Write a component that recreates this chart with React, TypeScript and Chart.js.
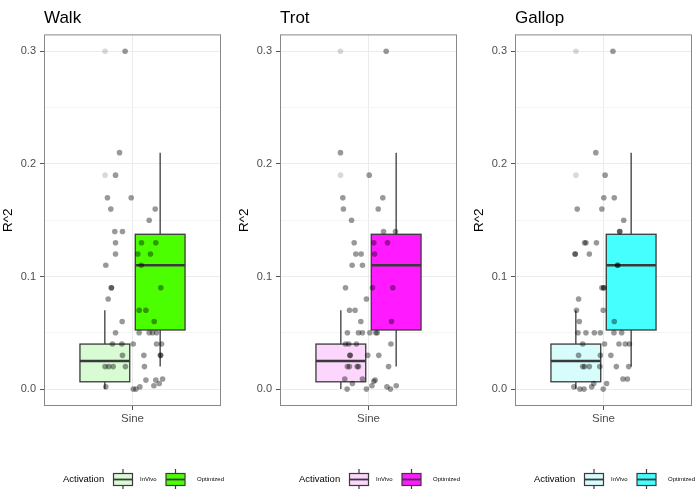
import React, { useEffect, useRef } from "react";
import { Chart, registerables } from "chart.js";

Chart.register(...registerables);

const FONT = "'Liberation Sans', Arial, Helvetica, sans-serif";

const panelTitles = ["Walk", "Trot", "Gallop"];
const groupLabels = ["InVivo", "Optimized"];
const legendTitle = "Activation";
const categoryLabel = "Sine";
const yAxisTitle = "R^2";
const yMajorTicks = [0, 0.1, 0.2, 0.3];
const yMinorTicks = [0.05, 0.15, 0.25];
const groupCenters = [0.8125, 1.1875];
const boxWidthUnits = 0.3375;

// [lower whisker, q1, median, q3, upper whisker]
const walkInVivoBox = [0, 0.0065, 0.025, 0.04, 0.07];
const walkOptimizedBox = [0.02, 0.0525, 0.11, 0.1375, 0.21];
const trotInVivoBox = [0, 0.0065, 0.025, 0.04, 0.07];
const trotOptimizedBox = [0.02, 0.0525, 0.11, 0.1375, 0.21];
const gallopInVivoBox = [0, 0.0065, 0.025, 0.04, 0.07];
const gallopOptimizedBox = [0.02, 0.0525, 0.11, 0.1375, 0.21];

const inVivoFills = ["#d8fbd4", "#fcd6fc", "#d6fcfc"];
const optimizedFills = ["#4cff00", "#ff1aff", "#45ffff"];

// jittered points (x is the dodged category position, y is R^2)
const walkX = [0.95, 0.912, 0.885, 0.83, 0.991, 0.853, 1.154, 1.113, 0.88, 0.932, 0.885, 1.061, 1.158, 0.885, 1.036, 1.122, 0.819, 1.059, 0.857, 0.857, 1.192, 0.835, 1.045, 1.091, 0.93, 1.147, 0.885, 1.045, 1.113, 1.136, 1.163, 0.864, 0.928, 1.005, 1.163, 1.197, 0.932, 1.077, 1.19, 1.19, 0.814, 0.839, 0.869, 0.952, 1.081, 0.819, 1.005, 1.023, 1.05, 1.091, 1.145, 1.158, 1.181, 1.204];
const walkY = [0.3, 0.21, 0.19, 0.17, 0.17, 0.16, 0.16, 0.15, 0.14, 0.14, 0.13, 0.13, 0.13, 0.12, 0.12, 0.12, 0.11, 0.11, 0.09, 0.09, 0.09, 0.08, 0.07, 0.07, 0.06, 0.06, 0.05, 0.05, 0.05, 0.05, 0.05, 0.04, 0.04, 0.04, 0.04, 0.04, 0.03, 0.03, 0.03, 0.03, 0.02, 0.02, 0.02, 0.02, 0.02, 0.002, 0, 0, 0.002, 0.008, 0.003, 0.008, 0.005, 0.009];
const walkFaintX = [0.814, 0.814];
const walkFaintY = [0.3, 0.19];

const trotX = [1.12, 0.81, 1.005, 0.826, 1.097, 0.83, 1.066, 0.885, 1.102, 1.183, 0.903, 1.036, 1.129, 0.914, 0.95, 1.041, 0.889, 0.959, 0.844, 1.027, 1.165, 0.986, 0.871, 0.909, 0.948, 1.156, 0.857, 0.932, 0.959, 1.009, 1.05, 1.059, 0.844, 0.866, 0.918, 1.152, 0.875, 0.875, 0.995, 1.07, 0.857, 0.871, 0.923, 0.932, 1.136, 0.839, 0.959, 0.855, 0.891, 0.986, 1.023, 1.036, 1.045, 1.125, 1.149, 1.188];
const trotY = [0.3, 0.21, 0.19, 0.17, 0.17, 0.16, 0.16, 0.15, 0.14, 0.14, 0.13, 0.13, 0.13, 0.12, 0.12, 0.12, 0.11, 0.11, 0.09, 0.09, 0.09, 0.08, 0.07, 0.07, 0.06, 0.06, 0.05, 0.05, 0.05, 0.05, 0.05, 0.05, 0.04, 0.04, 0.04, 0.04, 0.03, 0.03, 0.03, 0.03, 0.02, 0.02, 0.02, 0.02, 0.02, 0.009, 0.009, 0, 0.005, 0, 0.003, 0.007, 0.008, 0.002, 0, 0.003];
const trotFaintX = [0.81, 0.81];
const trotFaintY = [0.3, 0.19];

const gallopX = [1.064, 0.948, 1.011, 1.002, 1.073, 0.822, 0.989, 1.137, 1.11, 1.11, 0.872, 0.881, 0.952, 0.808, 0.808, 0.904, 1.096, 1.096, 0.989, 1.002, 1.002, 0.831, 0.817, 0.998, 0.836, 1.073, 0.827, 0.881, 0.938, 0.979, 1.071, 1.123, 0.859, 1.007, 1.105, 1.148, 1.176, 0.831, 0.979, 1.05, 0.859, 0.872, 0.904, 0.975, 1.087, 1.171, 1.132, 1.162, 0.799, 0.84, 0.868, 0.92, 0.934, 0.998, 1.021];
const gallopY = [0.3, 0.21, 0.19, 0.17, 0.17, 0.16, 0.16, 0.15, 0.14, 0.14, 0.13, 0.13, 0.13, 0.12, 0.12, 0.12, 0.11, 0.11, 0.09, 0.09, 0.09, 0.08, 0.07, 0.07, 0.06, 0.06, 0.05, 0.05, 0.05, 0.05, 0.05, 0.05, 0.04, 0.04, 0.04, 0.04, 0.04, 0.03, 0.03, 0.03, 0.02, 0.02, 0.02, 0.02, 0.02, 0.02, 0.009, 0.009, 0.002, 0, 0, 0.002, 0.005, 0, 0.005];
const gallopFaintX = [0.813, 0.813];
const gallopFaintY = [0.3, 0.19];

const panelBoxes = [
  [walkInVivoBox, walkOptimizedBox],
  [trotInVivoBox, trotOptimizedBox],
  [gallopInVivoBox, gallopOptimizedBox],
];
const panelPointsX = [walkX, trotX, gallopX];
const panelPointsY = [walkY, trotY, gallopY];
const panelFaintX = [walkFaintX, trotFaintX, gallopFaintX];
const panelFaintY = [walkFaintY, trotFaintY, gallopFaintY];

const canvasLefts = [0, 236, 471];
const CW = 233;
const CH = 500;

const isMajor = (v: number) => Math.abs(v * 10 - Math.round(v * 10)) < 1e-6;

function Panel({ index }: { index: number }) {
  const ref = useRef<HTMLCanvasElement | null>(null);
  useEffect(() => {
    if (!ref.current) return;
    const fills = [inVivoFills[index], optimizedFills[index]];
    const boxes = panelBoxes[index];

    const boxPlugin = {
      id: "boxes" + index,
      beforeDatasetsDraw(chart: any) {
        const { ctx, chartArea, scales } = chart;
        const xs = scales.x;
        const ys = scales.y;
        ctx.save();
        ctx.beginPath();
        ctx.rect(chartArea.left, chartArea.top, chartArea.right - chartArea.left, chartArea.bottom - chartArea.top);
        ctx.clip();
        boxes.forEach((b: number[], i: number) => {
          const [lo, q1, med, q3, hi] = b;
          const c = groupCenters[i];
          const xl = xs.getPixelForValue(c - boxWidthUnits / 2);
          const xr = xs.getPixelForValue(c + boxWidthUnits / 2);
          const xc = xs.getPixelForValue(c);
          const yLo = ys.getPixelForValue(lo);
          const yQ1 = ys.getPixelForValue(q1);
          const yMed = ys.getPixelForValue(med);
          const yQ3 = ys.getPixelForValue(q3);
          const yHi = ys.getPixelForValue(hi);
          ctx.strokeStyle = "#3a3a3a";
          ctx.lineWidth = 1.3;
          ctx.beginPath();
          ctx.moveTo(xc, yQ3);
          ctx.lineTo(xc, yHi);
          ctx.moveTo(xc, yQ1);
          ctx.lineTo(xc, yLo);
          ctx.stroke();
          ctx.fillStyle = fills[i];
          ctx.fillRect(xl, yQ3, xr - xl, yQ1 - yQ3);
          ctx.strokeRect(xl, yQ3, xr - xl, yQ1 - yQ3);
          ctx.lineWidth = 2.6;
          ctx.beginPath();
          ctx.moveTo(xl, yMed);
          ctx.lineTo(xr, yMed);
          ctx.stroke();
        });
        ctx.restore();
      },
      afterDraw(chart: any) {
        const { ctx, chartArea } = chart;
        ctx.save();
        ctx.strokeStyle = "#888888";
        ctx.lineWidth = 1;
        ctx.strokeRect(chartArea.left + 0.5, chartArea.top + 0.5, chartArea.right - chartArea.left - 1, chartArea.bottom - chartArea.top - 1);
        // legend
        const cy = 479.5;
        ctx.fillStyle = "#000";
        ctx.textBaseline = "middle";
        ctx.textAlign = "left";
        ctx.font = `9.5px ${FONT}`;
        ctx.fillText(legendTitle, 63, cy);
        const keyX = [113.5, 166];
        const labelX = [140, 197];
        groupLabels.forEach((lab, g) => {
          const kx = keyX[g];
          const kw = 19;
          ctx.strokeStyle = "#3a3a3a";
          ctx.lineWidth = 1.2;
          ctx.beginPath();
          ctx.moveTo(kx + kw / 2, cy - 10.5);
          ctx.lineTo(kx + kw / 2, cy + 9.5);
          ctx.stroke();
          ctx.fillStyle = fills[g];
          ctx.fillRect(kx, cy - 6, kw, 12);
          ctx.strokeRect(kx, cy - 6, kw, 12);
          ctx.lineWidth = 1.8;
          ctx.beginPath();
          ctx.moveTo(kx, cy);
          ctx.lineTo(kx + kw, cy);
          ctx.stroke();
          ctx.fillStyle = "#000";
          ctx.font = `6px ${FONT}`;
          ctx.fillText(lab, labelX[g], cy);
        });
        ctx.restore();
      },
    };

    const pts = panelPointsX[index].map((x, i) => ({ x, y: panelPointsY[index][i] }));
    const faint = panelFaintX[index].map((x, i) => ({ x, y: panelFaintY[index][i] }));

    const chart = new Chart(ref.current, {
      type: "scatter",
      data: {
        datasets: [
          { data: faint, pointRadius: 2.8, pointHoverRadius: 2.8, backgroundColor: "rgba(0,0,0,0.15)", borderWidth: 0 },
          { data: pts, pointRadius: 2.8, pointHoverRadius: 2.8, backgroundColor: "rgba(0,0,0,0.4)", borderWidth: 0 },
        ],
      },
      options: {
        animation: false,
        responsive: false,
        events: [],
        layout: { padding: { left: 0, right: 12, top: 0, bottom: 0 } },
        plugins: {
          legend: { display: false },
          tooltip: { enabled: false },
          title: {
            display: true,
            text: panelTitles[index],
            align: "start",
            fullSize: false,
            color: "#000",
            font: { family: FONT, size: 17, weight: "normal" },
            padding: { top: 8, bottom: 6 },
          },
        },
        scales: {
          x: {
            type: "linear",
            min: 0.4,
            max: 1.6,
            afterBuildTicks: (scale: any) => {
              scale.ticks = [{ value: 1 }];
            },
            afterFit: (scale: any) => {
              scale.height = 94;
            },
            ticks: {
              callback: () => categoryLabel,
              color: "#4d4d4d",
              font: { family: FONT, size: 11.5 },
              padding: 2,
              maxRotation: 0,
            },
            grid: { color: "#ebebeb", lineWidth: 1, tickLength: 4, tickColor: "#555" },
            border: { display: false },
          },
          y: {
            type: "linear",
            min: -0.015,
            max: 0.315,
            afterBuildTicks: (scale: any) => {
              scale.ticks = [...yMajorTicks, ...yMinorTicks].sort((a, b) => a - b).map((v) => ({ value: v }));
            },
            afterFit: (scale: any) => {
              scale.width = 44;
            },
            title: {
              display: true,
              text: yAxisTitle,
              color: "#000",
              font: { family: FONT, size: 13.5 },
              padding: { top: 0, bottom: 0 },
            },
            ticks: {
              callback: (v: any) => (isMajor(Number(v)) ? Number(v).toFixed(1) : ""),
              color: "#4d4d4d",
              font: { family: FONT, size: 11 },
              padding: 4,
              autoSkip: false,
            },
            grid: {
              color: (c: any) => (isMajor(c.tick ? c.tick.value : 0) ? "#ebebeb" : "#f4f4f4"),
              lineWidth: 1,
              tickLength: 4,
              tickColor: (c: any) => (isMajor(c.tick ? c.tick.value : 0) ? "#555" : "rgba(0,0,0,0)"),
            },
            border: { display: false },
          },
        },
      },
      plugins: [boxPlugin],
    } as any);
    return () => chart.destroy();
  }, [index]);
  return (
    <canvas
      ref={ref}
      width={CW}
      height={CH}
      style={{ position: "absolute", left: canvasLefts[index], top: 0, width: CW, height: CH }}
    />
  );
}

export default function App() {
  return (
    <div style={{ position: "absolute", left: 0, top: 0, width: 699, height: 500, background: "#fff", overflow: "hidden" }}>
      {panelTitles.map((t, i) => (
        <Panel key={t} index={i} />
      ))}
    </div>
  );
}
